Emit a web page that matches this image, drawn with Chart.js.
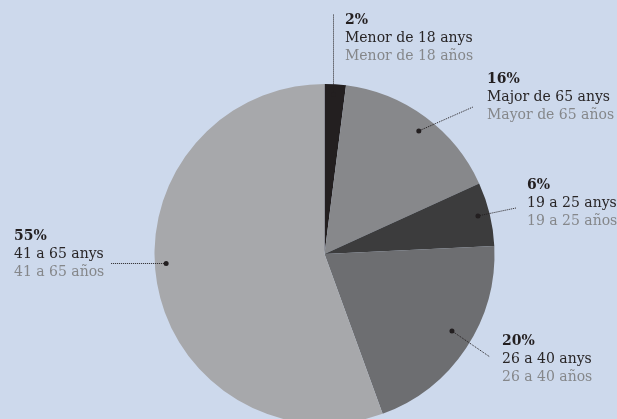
<!DOCTYPE html>
<html>
<head>
<meta charset="utf-8">
<script src="https://cdn.jsdelivr.net/npm/chart.js@4/dist/chart.umd.min.js"></script>
<style>
  html, body { margin: 0; padding: 0; background: #cdd9ec; overflow: hidden; }
  #wrap { position: relative; width: 617px; height: 440px; }
</style>
</head>
<body>
<div id="wrap"><canvas id="pie"></canvas></div>
<script>
// Age groups, clockwise from 12 o'clock
const PCT        = [2, 16, 6, 20, 55];
const LABELS_CA  = ["Menor de 18 anys", "Major de 65 anys", "19 a 25 anys", "26 a 40 anys", "41 a 65 anys"];
const LABELS_ES  = ["Menor de 18 años", "Mayor de 65 años", "19 a 25 años", "26 a 40 años", "41 a 65 años"];
const COLORS     = ["#231f20", "#87888b", "#3c3c3d", "#6d6e71", "#a7a8ab"];

// Callout layout: text block origin, dot placement on the slice, leader end.
const CALLOUTS = [
  { tx: 345, ty: 20,  off: -0.6, r: 0.94,  ex: 333, ey: 14 },
  { tx: 487, ty: 79,  off: 1.1,  r: 0.912, ex: 473, ey: 107 },
  { tx: 527, ty: 185, off: -0.3, r: 0.93,  ex: 516, ey: 208 },
  { tx: 502, ty: 341, off: -2.5, r: 0.876, ex: 490, ey: 357 },
  { tx: 14,  ty: 236, off: 6.8,  r: 0.933, ex: 111, ey: null },
];

const SERIF = "'DejaVu Serif', 'Liberation Serif', serif";
const LINE_H = 18;

const calloutPlugin = {
  id: "callouts",
  afterDraw(chart) {
    const ctx = chart.ctx;
    const arcs = chart.getDatasetMeta(0).data;
    ctx.save();
    arcs.forEach((arc, i) => {
      const c = CALLOUTS[i];
      const { x, y, startAngle, endAngle, outerRadius } = arc.getProps(["x", "y", "startAngle", "endAngle", "outerRadius"], true);
      const a = (startAngle + endAngle) / 2 + c.off * Math.PI / 180;
      let dx = x + Math.cos(a) * outerRadius * c.r;
      let dy = y + Math.sin(a) * outerRadius * c.r;
      // vertical / horizontal leaders get snapped so the dots stay crisp
      if (i === 0) dx = Math.round(dx) + 0.5;
      if (c.ey == null) dy = Math.round(dy) + 0.5;
      const ey = c.ey == null ? dy : c.ey;
      const lx = i === 0 ? dx : c.ex;

      // dotted leader
      ctx.strokeStyle = "#231f20";
      ctx.lineWidth = 1;
      ctx.setLineDash([1, 1]);
      ctx.beginPath();
      ctx.moveTo(dx, dy);
      ctx.lineTo(lx, ey);
      ctx.stroke();
      ctx.setLineDash([]);

      ctx.fillStyle = "#231f20";
      ctx.beginPath();
      ctx.arc(dx, dy, 2.5, 0, Math.PI * 2);
      ctx.fill();

      // text block
      ctx.textAlign = "left";
      ctx.textBaseline = "middle";
      ctx.fillStyle = "#231f20";
      ctx.font = "bold 14px " + SERIF;
      ctx.fillText(PCT[i] + "%", c.tx, c.ty);
      ctx.font = "14px " + SERIF;
      ctx.fillStyle = "#282526";
      ctx.fillText(LABELS_CA[i], c.tx, c.ty + LINE_H);
      ctx.fillStyle = "#85878a";
      ctx.fillText(LABELS_ES[i], c.tx, c.ty + LINE_H * 2);
    });
    ctx.restore();
  }
};

new Chart(document.getElementById("pie"), {
  type: "pie",
  data: {
    labels: LABELS_CA,
    datasets: [{
      data: PCT,
      backgroundColor: COLORS,
      borderWidth: 0
    }]
  },
  options: {
    responsive: true,
    maintainAspectRatio: false,
    animation: false,
    layout: { padding: { top: 84, bottom: 16, left: 32, right: 0 } },
    plugins: {
      legend: { display: false },
      tooltip: { enabled: false }
    }
  },
  plugins: [calloutPlugin]
});
</script>
</body>
</html>
